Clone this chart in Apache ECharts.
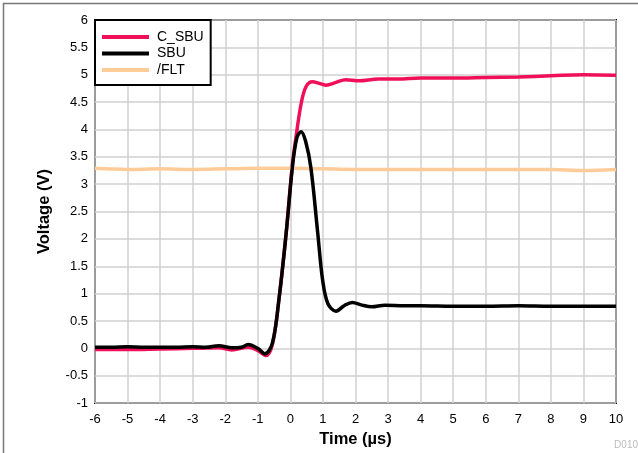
<!DOCTYPE html>
<html>
<head>
<meta charset="utf-8">
<script src="https://cdn.jsdelivr.net/npm/echarts@6/dist/echarts.min.js"></script>
<style>html,body{margin:0;padding:0;background:#fff;}#c{width:638px;height:453px;}</style>
</head>
<body>
<div id="c"></div>
<script>
const seriesNames = ['C_SBU', 'SBU', '/FLT'];
const cSbu = [[-6,-0.02],[-5,-0.02],[-4,-0.01],[-3,0.0],[-2.2,0.01],[-1.8,-0.03],[-1.3,0.02],[-1.0,-0.04],[-0.75,-0.13],[-0.55,0.08],[-0.35,0.9],[-0.13,2.1],[0.06,3.35],[0.17,3.85],[0.33,4.47],[0.48,4.78],[0.68,4.87],[0.85,4.85],[1.09,4.81],[1.4,4.86],[1.7,4.91],[2.1,4.89],[2.7,4.92],[3.3,4.92],[4,4.94],[5,4.94],[6,4.95],[7,4.96],[8,4.98],[9,5.0],[10,4.99]];
const sbu = [[-6,0.02],[-5.5,0.02],[-5,0.03],[-4.5,0.02],[-4,0.02],[-3.5,0.02],[-3,0.03],[-2.6,0.02],[-2.2,0.05],[-1.8,0.01],[-1.5,0.02],[-1.3,0.07],[-1.0,0.0],[-0.78,-0.1],[-0.55,0.1],[-0.35,0.9],[-0.13,2.1],[0.06,3.3],[0.2,3.85],[0.33,3.96],[0.47,3.78],[0.63,3.3],[0.84,2.11],[0.99,1.25],[1.15,0.82],[1.4,0.68],[1.65,0.78],[1.9,0.84],[2.2,0.79],[2.5,0.76],[2.9,0.79],[3.5,0.78],[4,0.78],[5,0.77],[6,0.77],[7,0.78],[8,0.77],[9,0.77],[10,0.77]];
const flt = [[-6,3.29],[-5,3.27],[-4,3.28],[-3,3.27],[-2,3.28],[-1,3.29],[0,3.29],[1,3.28],[2,3.27],[3,3.27],[4,3.27],[5,3.27],[6,3.27],[7,3.27],[8,3.27],[9,3.25],[10,3.27]];
const colors = ['#F0105A', '#000000', '#FFCC99'];

const chart = echarts.init(document.getElementById('c'));
const font = 'Liberation Sans, Arial, sans-serif';
chart.setOption({
  animation: false,
  textStyle: { fontFamily: font },
  graphic: [
    { type: 'rect', shape: { x: 3.5, y: 3.5, width: 700, height: 700 }, style: { fill: 'none', stroke: '#777', lineWidth: 1.5 }, silent: true },
    { type: 'text', right: 0, bottom: 3, style: { text: 'D010', fill: '#bbb', fontSize: 10, fontFamily: font } }
  ],
  grid: { left: 95, right: 22, top: 20, bottom: 49, show: true, borderColor: '#000', borderWidth: 2, backgroundColor: 'transparent', containLabel: false },
  legend: {
    orient: 'vertical', left: 95, top: 20,
    data: seriesNames, icon: 'rect', itemWidth: 47, itemHeight: 4, itemGap: 0.5,
    borderColor: '#000', borderWidth: 2, padding: [9, 7, 7, 7], backgroundColor: '#fff',
    textStyle: { fontSize: 14, lineHeight: 16, color: '#000', fontFamily: font, padding: [0,0,0,3] }
  },
  xAxis: {
    type: 'value', min: -6, max: 10, interval: 1,
    name: 'Time (µs)', nameLocation: 'middle', nameGap: 27,
    nameTextStyle: { fontSize: 16.5, fontWeight: 'bold', color: '#000', fontFamily: font },
    axisLine: { show: false }, axisTick: { show: false },
    axisLabel: { fontSize: 13, color: '#000', margin: 10, fontFamily: font },
    splitLine: { show: true, lineStyle: { color: '#d0d0d0', width: 1.5 } }
  },
  yAxis: {
    type: 'value', min: -1, max: 6, interval: 0.5,
    name: 'Voltage (V)', nameLocation: 'middle', nameGap: 42,
    nameTextStyle: { fontSize: 16.5, fontWeight: 'bold', color: '#000', fontFamily: font },
    axisLine: { show: false }, axisTick: { show: false },
    axisLabel: { fontSize: 13, color: '#000', margin: 7, fontFamily: font },
    splitLine: { show: true, lineStyle: { color: '#d0d0d0', width: 1.5 } }
  },
  series: [
    { name: seriesNames[0], type: 'line', data: cSbu, smooth: 0.35, showSymbol: false, lineStyle: { color: colors[0], width: 3.5 }, itemStyle: { color: colors[0] }, z: 2 },
    { name: seriesNames[2], type: 'line', data: flt, smooth: 0.35, showSymbol: false, lineStyle: { color: colors[2], width: 3.5 }, itemStyle: { color: colors[2] }, z: 3 },
    { name: seriesNames[1], type: 'line', data: sbu, smooth: 0.35, showSymbol: false, lineStyle: { color: colors[1], width: 3.5 }, itemStyle: { color: colors[1] }, z: 4 }
  ]
});
</script>
</body>
</html>
